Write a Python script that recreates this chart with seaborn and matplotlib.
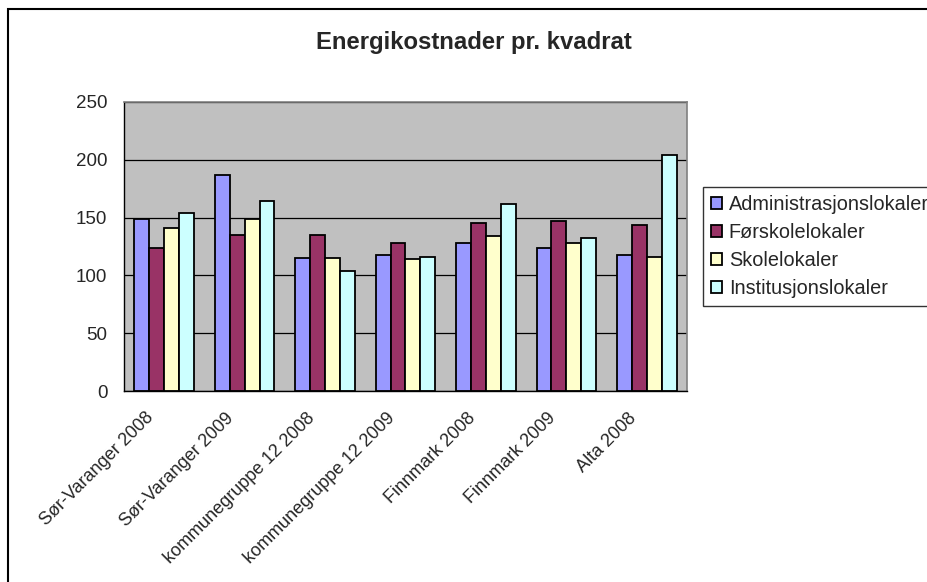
import pandas as pd
import matplotlib.pyplot as plt
import seaborn as sns
from matplotlib.patches import Rectangle
from matplotlib.transforms import ScaledTranslation

# values
regions = ["Sør-Varanger 2008", "Sør-Varanger 2009", "kommunegruppe 12 2008",
           "kommunegruppe 12 2009", "Finnmark 2008", "Finnmark 2009", "Alta 2008"]
administrasjon = [149, 187, 115, 118, 128, 124, 118]
forskole = [124, 135, 135, 128, 145, 147, 144]
skole = [141, 149, 115, 114, 134, 128, 116]
institusjon = [154, 164, 104, 116, 162, 132, 204]

series = ["Administrasjonslokaler", "Førskolelokaler", "Skolelokaler", "Institusjonslokaler"]
colors = ["#9999FF", "#993366", "#FFFFCC", "#CCFFFF"]

df = pd.DataFrame({
    "region": regions * 4,
    "serie": [s for s in series for _ in regions],
    "verdi": administrasjon + forskole + skole + institusjon,
})

sns.set_style("white")
plt.rcParams['font.family'] = ['Liberation Sans', 'DejaVu Sans']

fig = plt.figure(figsize=(9.28, 5.82), dpi=100)
ax = fig.add_axes([124 / 928, 1 - 391 / 582, (687 - 124) / 928, (391 - 102) / 582])

sns.barplot(data=df, x="region", y="verdi", hue="serie", palette=colors,
            width=0.74, gap=0, edgecolor="black", linewidth=1.3,
            saturation=1, ax=ax, legend=True)

ax.set_facecolor("#C0C0C0")
ax.set_ylim(0, 250)
ax.set_yticks(range(0, 251, 50))
ax.set_xlim(-0.5, len(regions) - 0.5)
ax.yaxis.grid(True, color="black", linewidth=0.9)
ax.set_axisbelow(True)
ax.set_xlabel("")
ax.set_ylabel("")

for side in ["top", "right"]:
    ax.spines[side].set_color("#808080")
    ax.spines[side].set_linewidth(1.2)
for side in ["left", "bottom"]:
    ax.spines[side].set_color("black")
    ax.spines[side].set_linewidth(1.0)

# tick marks between groups, labels at group centres
ax.set_xticks([i - 0.5 for i in range(len(regions) + 1)], minor=True)
ax.tick_params(axis="x", which="minor", length=6, width=1, color="black", direction="out")
ax.tick_params(axis="x", which="major", length=0, pad=6)
ax.tick_params(axis="y", length=6, width=1, color="black", direction="out", labelsize=13.5, pad=6)
ax.set_xticks(range(len(regions)))
ax.set_xticklabels(regions, rotation=45, ha="right", rotation_mode="anchor", fontsize=13)
shift = ScaledTranslation(-0.19, -0.10, fig.dpi_scale_trans)
for lbl in ax.get_xticklabels():
    lbl.set_transform(lbl.get_transform() + shift)

fig.text(474 / 928, 1 - 43 / 582, "Energikostnader pr. kvadrat", ha="center", va="center",
         fontsize=17.2, fontweight="bold")

handles, labels = ax.get_legend_handles_labels()
ax.legend_.remove()
leg = fig.legend(handles, labels, loc="upper left", bbox_to_anchor=(703 / 928, 1 - 187 / 582),
                 frameon=True, fancybox=False, edgecolor="black", fontsize=14.3,
                 handlelength=0.55, handleheight=0.55, handletextpad=0.33,
                 labelspacing=0.45, borderpad=0.42, borderaxespad=0)
leg.get_frame().set_linewidth(1.0)

# chart border (left and top edges visible, the rest runs off the image)
fig.add_artist(Rectangle((8 / 928, -0.5), 2.0, 1.5 - 9 / 582, transform=fig.transFigure,
                         fill=False, edgecolor="black", linewidth=1.5))

fig.savefig("out.png", dpi=100)
